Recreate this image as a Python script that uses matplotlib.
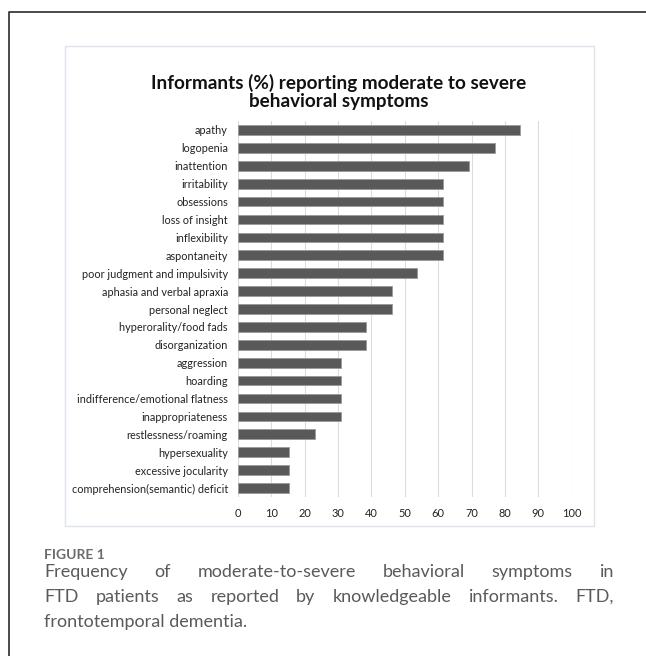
import matplotlib
matplotlib.use("Agg")
import matplotlib.pyplot as plt
from matplotlib.patches import Rectangle
from matplotlib.lines import Line2D

W, H = 646, 656

symptoms = [
    "apathy", "logopenia", "inattention", "irritability", "obsessions",
    "loss of insight", "inflexibility", "aspontaneity",
    "poor judgment and impulsivity", "aphasia and verbal apraxia",
    "personal neglect", "hyperorality/food fads", "disorganization",
    "aggression", "hoarding", "indifference/emotional flatness",
    "inappropriateness", "restlessness/roaming", "hypersexuality",
    "excessive jocularity", "comprehension(semantic) deficit",
]
percent = [84.6, 76.9, 69.2, 61.5, 61.5, 61.5, 61.5, 61.5, 53.8, 46.2,
           46.2, 38.5, 38.5, 30.8, 30.8, 30.8, 30.8, 23.1, 15.4, 15.4, 15.4]
xticks = list(range(0, 101, 10))

title = "Informants (%) reporting moderate to severe\nbehavioral symptoms"
caption_head = "FIGURE 1"
caption_lines = [
    "Frequency of moderate-to-severe behavioral symptoms in",
    "FTD patients as reported by knowledgeable informants. FTD,",
    "frontotemporal dementia.",
]

plt.rcParams["font.family"] = ["Lato", "DejaVu Sans"]

fig = plt.figure(figsize=(W / 100, H / 100), dpi=100)


def fx(px):
    return px / W


def fy(py):
    return 1 - py / H


# outer frame (left + top edge only visible)
fig.add_artist(Line2D([fx(9), fx(9), fx(W)], [fy(H), fy(12), fy(12)],
                      color="#3a3a3a", lw=1.3, transform=fig.transFigure))
# chart box
fig.add_artist(Rectangle((fx(65), fy(526)), fx(594) - fx(65), fy(46) - fy(526),
                         fill=False, edgecolor="#dfe4ec", lw=1.0,
                         transform=fig.transFigure))

ax = fig.add_axes([fx(237.7), fy(497), fx(571.7) - fx(237.7), fy(121) - fy(497)])
ypos = list(range(len(symptoms)))
ax.barh(ypos, percent, height=0.54, color="#595959", edgecolor="#9a9a9a",
        linewidth=0.6, zorder=3)
ax.set_xlim(0, 100)
ax.set_ylim(len(symptoms) - 0.5, -0.5)
ax.set_xticks(xticks)
ax.set_xticklabels([str(t) for t in xticks], fontsize=7.9, color="#222222")
ax.set_yticks(ypos)
ax.set_yticklabels(symptoms, fontsize=7.8, color="#222222")
ax.tick_params(length=0, pad=7)
ax.tick_params(axis="x", pad=8)
ax.grid(axis="x", color="#dcdcdc", lw=0.8, zorder=0)
for s in ax.spines.values():
    s.set_visible(False)

fig.text(fx(339), fy(92), title, ha="center", va="center", fontsize=13.6,
         fontweight="bold", color="#111111", linespacing=1.05)

fig.text(fx(44), fy(555), caption_head, ha="left", va="center", fontsize=10,
         fontweight="bold", color="#6b6b6b")

# justified caption text
renderer = fig.canvas.get_renderer()
left, right = 44, 614
baselines = [577, 602, 627]
cap_kw = dict(va="baseline", ha="left", fontsize=13.0, color="#5a5a5a")
for i, line in enumerate(caption_lines):
    words = line.split()
    if i == len(caption_lines) - 1:
        fig.text(fx(left), fy(baselines[i]), line, **cap_kw)
        continue
    arts = [fig.text(0, fy(baselines[i]), w, **cap_kw) for w in words]
    widths = [a.get_window_extent(renderer).width for a in arts]
    gap = (right - left - sum(widths)) / (len(words) - 1)
    x = left
    for a, w in zip(arts, widths):
        a.set_x(fx(x))
        x += w + gap

fig.savefig("out.png", dpi=100)
